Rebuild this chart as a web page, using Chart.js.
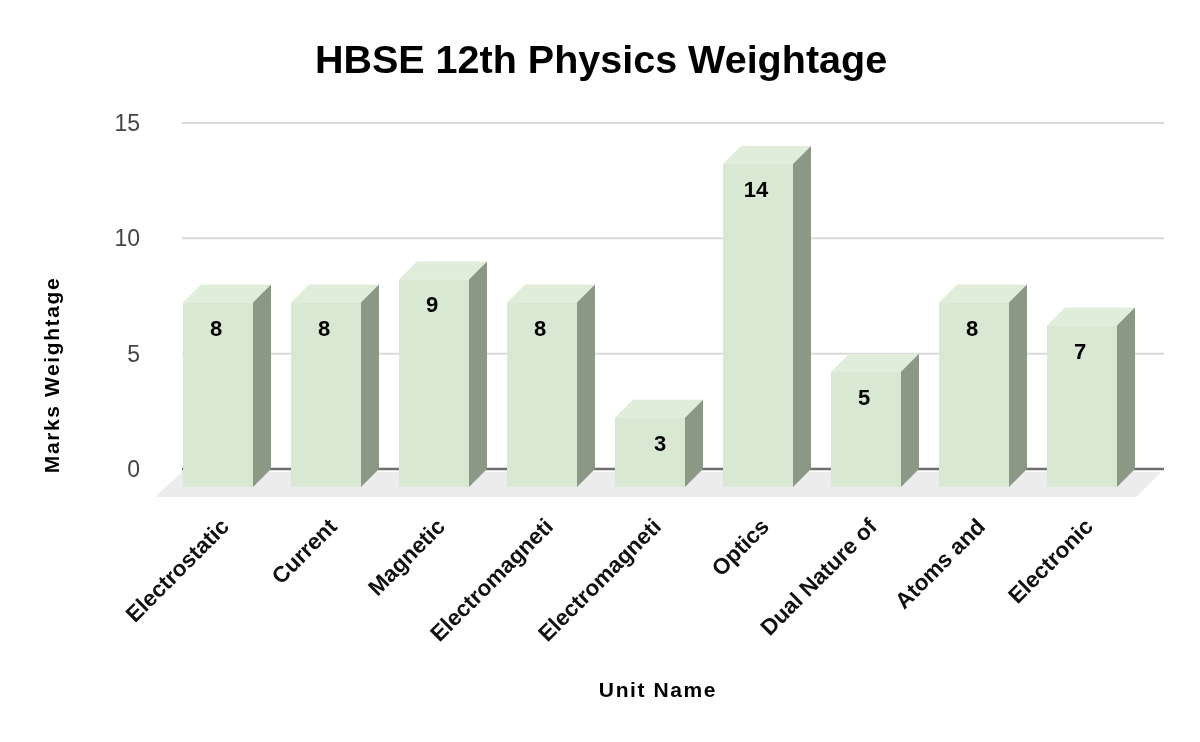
<!DOCTYPE html>
<html lang="en">
<head>
    <meta charset="UTF-8">
    <title>HBSE 12th Physics Weightage</title>
    <script src="https://cdnjs.cloudflare.com/ajax/libs/Chart.js/4.4.1/chart.umd.js"></script>
    <style>
        body { margin: 0; background: #fff; }
        canvas { display: block; }
    </style>
</head>
<body>
    <canvas id="weightChart" width="1200" height="742"></canvas>

    <script>
        const unitNames = ['Electrostatic', 'Current', 'Magnetic', 'Electromagneti', 'Electromagneti', 'Optics', 'Dual Nature of', 'Atoms and', 'Electronic'];
        const marks = [8, 8, 9, 8, 3, 14, 5, 8, 7];
        const yTicks = [0, 5, 10, 15];

        const FONT = '"Liberation Sans", Arial, sans-serif';
        const DEPTH = 18;  // 3d offset of the front face, down and left

        // grid, floor and the bar sides go under the bars
        const backdrop = {
            id: 'backdrop',
            beforeDatasetsDraw(chart) {
                const ctx = chart.ctx;
                const y = chart.scales.y;
                const zero = y.getPixelForValue(0);

                ctx.save();
                ctx.fillStyle = '#ececec';
                ctx.beginPath();
                ctx.moveTo(182, zero + 3);
                ctx.lineTo(1161, zero + 3);
                ctx.lineTo(1136, zero + 28);
                ctx.lineTo(155, zero + 28);
                ctx.closePath();
                ctx.fill();

                yTicks.forEach(function(t) {
                    const py = y.getPixelForValue(t);
                    ctx.strokeStyle = t === 0 ? '#6f6f6f' : '#dadada';
                    ctx.lineWidth = t === 0 ? 2.5 : 2;
                    ctx.beginPath();
                    ctx.moveTo(182, py);
                    ctx.lineTo(1164, py);
                    ctx.stroke();
                });

                chart.getDatasetMeta(0).data.forEach(function(bar) {
                    const half = bar.width / 2;
                    const l = bar.x - half, r = bar.x + half;
                    // top
                    ctx.fillStyle = '#e0edda';
                    ctx.beginPath();
                    ctx.moveTo(l, bar.y);
                    ctx.lineTo(r, bar.y);
                    ctx.lineTo(r - DEPTH, bar.y + DEPTH);
                    ctx.lineTo(l - DEPTH, bar.y + DEPTH);
                    ctx.closePath();
                    ctx.fill();
                    // side
                    ctx.fillStyle = '#8a9885';
                    ctx.beginPath();
                    ctx.moveTo(r, bar.y);
                    ctx.lineTo(r, bar.base);
                    ctx.lineTo(r - DEPTH, bar.base + DEPTH);
                    ctx.lineTo(r - DEPTH, bar.y + DEPTH);
                    ctx.closePath();
                    ctx.fill();
                });
                ctx.restore();
            },
            // the bar itself is the front face
            beforeDatasetDraw(chart) {
                chart.ctx.save();
                chart.ctx.translate(-DEPTH, DEPTH);
            },
            afterDatasetDraw(chart) {
                chart.ctx.restore();
            },
            afterDatasetsDraw(chart) {
                const ctx = chart.ctx;
                ctx.save();
                ctx.fillStyle = '#000';
                ctx.font = 'bold 22px ' + FONT;
                ctx.textAlign = 'center';
                ctx.textBaseline = 'middle';
                chart.getDatasetMeta(0).data.forEach(function(bar, i) {
                    // the "3" sits further right in the original
                    const dx = i === 4 ? 10 : -2;
                    ctx.fillText(marks[i], bar.x - DEPTH + dx, bar.y + DEPTH + 27);
                });

                // titles sit off centre of the plot, so they are placed by hand
                ctx.font = 'bold 39.5px ' + FONT;
                ctx.fillText('HBSE 12th Physics Weightage', 601, 62);

                ctx.font = 'bold 21px ' + FONT;
                ctx.letterSpacing = '1.6px';
                ctx.fillText('Unit Name', 658, 691);
                ctx.translate(53, 375);
                ctx.rotate(-Math.PI / 2);
                ctx.fillText('Marks Weightage', 0, 0);
                ctx.restore();
            }
        };

        new Chart(document.getElementById('weightChart'), {
            type: 'bar',
            data: {
                labels: unitNames,
                datasets: [{
                    data: marks,
                    backgroundColor: '#d9e8d3',
                    barPercentage: 0.648,
                    categoryPercentage: 1,
                    clip: false
                }]
            },
            options: {
                responsive: false,
                animation: false,
                layout: { padding: { top: 123, right: 46 } },
                plugins: {
                    legend: { display: false },
                    tooltip: { enabled: false }
                },
                scales: {
                    x: {
                        grid: { display: false },
                        border: { display: false },
                        afterFit(scale) { scale.height = 273; },
                        ticks: {
                            autoSkip: false,
                            minRotation: 45,
                            maxRotation: 45,
                            padding: 37,
                            labelOffset: -10,
                            color: '#111',
                            font: { family: FONT, size: 22.5, weight: 'bold' }
                        }
                    },
                    y: {
                        min: 0,
                        max: 15,
                        grid: { display: false },
                        border: { display: false },
                        afterFit(scale) { scale.width = 182; },
                        afterBuildTicks(scale) { scale.ticks = yTicks.map(v => ({ value: v })); },
                        ticks: {
                            padding: 34,
                            labelOffset: 1.5,
                            color: '#444',
                            font: { family: FONT, size: 23 }
                        }
                    }
                }
            },
            plugins: [backdrop]
        });
    </script>
</body>
</html>
